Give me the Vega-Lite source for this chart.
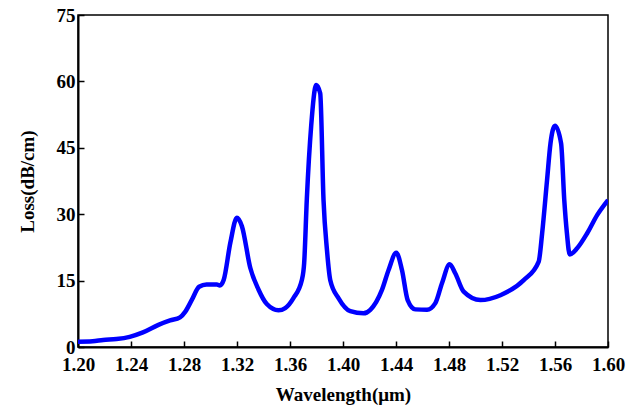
{
  "$schema": "https://vega.github.io/schema/vega-lite/v6.json",
  "autosize": "none",
  "width": 530,
  "height": 332,
  "padding": {"left": 78, "top": 15, "right": 33, "bottom": 61},
  "background": "white",
  "config": {
    "view": {"stroke": "black", "strokeWidth": 1.5},
    "axis": {
      "labelFont": "Liberation Serif",
      "labelFontWeight": "bold",
      "labelFontSize": 19,
      "labelColor": "black",
      "titleFont": "Liberation Serif",
      "titleFontWeight": "bold",
      "titleFontSize": 19,
      "titleColor": "black",
      "domainColor": "black",
      "domainWidth": 2,
      "tickColor": "black",
      "tickWidth": 1.5,
      "tickSize": -6,
      "grid": false
    }
  },
  "data": {
    "values": [
      {"w": 1.200, "loss": 1.2},
      {"w": 1.211, "loss": 1.3},
      {"w": 1.219, "loss": 1.6},
      {"w": 1.229, "loss": 1.8},
      {"w": 1.239, "loss": 2.3},
      {"w": 1.249, "loss": 3.3},
      {"w": 1.2607, "loss": 5.0},
      {"w": 1.2695, "loss": 6.0},
      {"w": 1.277, "loss": 6.7},
      {"w": 1.281, "loss": 8.0},
      {"w": 1.286, "loss": 10.7},
      {"w": 1.2914, "loss": 13.6},
      {"w": 1.297, "loss": 14.1},
      {"w": 1.3048, "loss": 14.1},
      {"w": 1.307, "loss": 13.9},
      {"w": 1.310, "loss": 15.2},
      {"w": 1.315, "loss": 23.6},
      {"w": 1.3199, "loss": 29.2},
      {"w": 1.3237, "loss": 27.3},
      {"w": 1.330, "loss": 17.9},
      {"w": 1.3362, "loss": 13.0},
      {"w": 1.3425, "loss": 9.7},
      {"w": 1.3513, "loss": 8.3},
      {"w": 1.3564, "loss": 8.8},
      {"w": 1.3627, "loss": 11.1},
      {"w": 1.369, "loss": 15.2},
      {"w": 1.3707, "loss": 19.0},
      {"w": 1.3727, "loss": 33.4},
      {"w": 1.3760, "loss": 50.0},
      {"w": 1.3798, "loss": 59.2},
      {"w": 1.3828, "loss": 57.3},
      {"w": 1.3853, "loss": 33.2},
      {"w": 1.3879, "loss": 21.9},
      {"w": 1.3904, "loss": 15.1},
      {"w": 1.3967, "loss": 11.0},
      {"w": 1.4055, "loss": 8.1},
      {"w": 1.4155, "loss": 7.6},
      {"w": 1.4206, "loss": 8.4},
      {"w": 1.4294, "loss": 12.9},
      {"w": 1.4344, "loss": 17.4},
      {"w": 1.4402, "loss": 21.3},
      {"w": 1.4445, "loss": 17.4},
      {"w": 1.4488, "loss": 10.6},
      {"w": 1.4546, "loss": 8.5},
      {"w": 1.4634, "loss": 8.4},
      {"w": 1.4697, "loss": 9.9},
      {"w": 1.4747, "loss": 14.4},
      {"w": 1.4805, "loss": 18.7},
      {"w": 1.4848, "loss": 16.6},
      {"w": 1.4911, "loss": 12.5},
      {"w": 1.5037, "loss": 10.6},
      {"w": 1.5188, "loss": 11.7},
      {"w": 1.5364, "loss": 15.1},
      {"w": 1.5477, "loss": 19.3},
      {"w": 1.5503, "loss": 25.7},
      {"w": 1.5540, "loss": 37.7},
      {"w": 1.5566, "loss": 46.0},
      {"w": 1.5600, "loss": 50.0},
      {"w": 1.5646, "loss": 46.0},
      {"w": 1.5670, "loss": 33.2},
      {"w": 1.5690, "loss": 25.7},
      {"w": 1.5711, "loss": 20.9},
      {"w": 1.5767, "loss": 22.3},
      {"w": 1.5843, "loss": 25.7},
      {"w": 1.5918, "loss": 29.8},
      {"w": 1.6000, "loss": 33.2}
    ]
  },
  "mark": {"type": "line", "color": "#0000FF", "strokeWidth": 4.5, "interpolate": "monotone", "clip": true},
  "encoding": {
    "x": {
      "field": "w", "type": "quantitative",
      "scale": {"domain": [1.2, 1.6], "nice": false, "zero": false},
      "axis": {"values": [1.2, 1.24, 1.28, 1.32, 1.36, 1.4, 1.44, 1.48, 1.52, 1.56, 1.6], "format": ".2f", "title": "Wavelength(μm)", "labelPadding": 14, "titlePadding": 11, "labelFlush": false}
    },
    "y": {
      "field": "loss", "type": "quantitative",
      "scale": {"domain": [0, 75], "nice": false},
      "axis": {"values": [0, 15, 30, 45, 60, 75], "title": "Loss(dB/cm)", "labelPadding": 9, "titlePadding": 19, "labelFlush": false}
    }
  }
}
